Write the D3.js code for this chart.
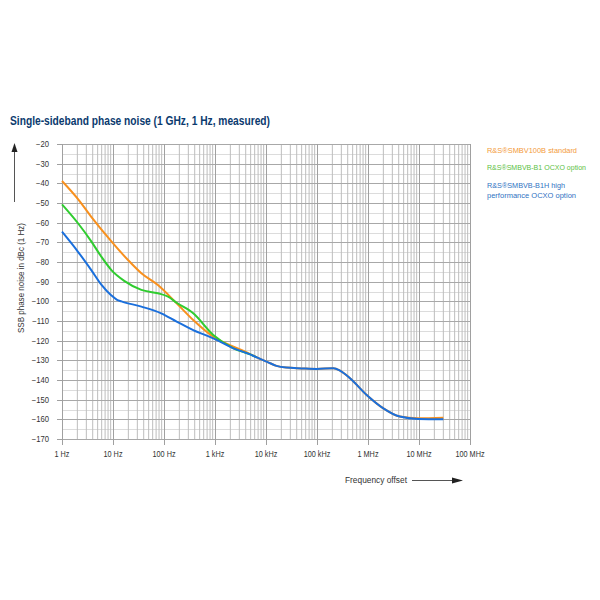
<!DOCTYPE html>
<html><head><meta charset="utf-8">
<script src="https://cdn.jsdelivr.net/npm/d3@7"></script>
<style>body{margin:0;background:#fff}svg{display:block}text{font-family:"Liberation Sans Narrow","Arial Narrow","Liberation Sans",sans-serif}</style>
</head><body>
<svg id="c" width="600" height="600"></svg>
<script>
const title = "Single-sideband phase noise (1 GHz, 1 Hz, measured)";
const yTicks = [-20,-30,-40,-50,-60,-70,-80,-90,-100,-110,-120,-130,-140,-150,-160,-170];
const xTicks = [1,10,100,1e3,1e4,1e5,1e6,1e7,1e8];
const xTickLabels = ["1 Hz","10 Hz","100 Hz","1 kHz","10 kHz","100 kHz","1 MHz","10 MHz","100 MHz"];
const legendLines = ["R&S®SMBV100B standard","R&S®SMBVB-B1 OCXO option","R&S®SMBVB-B1H high","performance OCXO option"];
const colors = ["#f7901e","#2fcc2f","#1a6fdc"];
const legendColors = ["#f39a3a","#5dc13f","#2f72c2"];

const orangeFreq = [1,2.06,3.75,9.3,19.7,36,76,177,374,925,2300,4900,6600,11000,16000,25000,50000,98000,209000,282000,444000,942000,2e6,4.2e6,9.7e6,3e7];
const orangeVal  = [-38.8,-48,-57,-69.5,-79,-85.7,-91.7,-101,-109.5,-118,-123,-126.8,-128.5,-131,-132.8,-133.7,-134.1,-134.4,-134,-135.2,-139.1,-147.6,-154.4,-158.6,-159.5,-159.2];
const greenFreq = [1,2.06,3.75,5.9,9.3,16.9,36,76,120,177,374,925,2300,4900,6600];
const greenVal  = [-50.7,-60.3,-69.5,-77.3,-84.1,-89.7,-94.2,-95.9,-97.6,-100.7,-106.1,-117.1,-123.9,-127,-128.5];
const blueFreq = [1,2.06,3.75,5.9,9.3,12,14.6,36,88,177,374,925,2300,4900,6600,11000,16000,25000,50000,98000,209000,282000,444000,942000,2e6,4.2e6,9.7e6,3e7];
const blueVal  = [-64.6,-74.8,-84.1,-91.5,-97,-99.2,-100,-102.7,-106.1,-110.3,-114.6,-118.8,-123.9,-127,-128.5,-131,-132.8,-133.7,-134.1,-134.4,-134,-135.2,-139.1,-147.6,-154.4,-158.6,-159.8,-160];

const svg = d3.select("#c");
const x = d3.scaleLog().domain([1,1e8]).range([62,470]);
const y = d3.scaleLinear().domain([-170,-20]).range([439,144]);

// grid
const g = svg.append("g");
const minorY = d3.range(-165,-20,10);
g.selectAll(".hm").data(minorY).enter().append("line")
  .attr("x1",x(1)).attr("x2",x(1e8)).attr("y1",d=>Math.round(y(d))+0.5).attr("y2",d=>Math.round(y(d))+0.5)
  .attr("stroke","#dcdcdc").attr("stroke-width",1);
const minorX = [];
for(let d=0; d<8; d++) for(let k=2;k<=9;k++) minorX.push(k*Math.pow(10,d));
g.selectAll(".vm").data(minorX).enter().append("line")
  .attr("x1",d=>x(d)).attr("x2",d=>x(d)).attr("y1",y(-20)).attr("y2",y(-170))
  .attr("stroke","#bdbdbd").attr("stroke-width",1);
g.selectAll(".hM").data(yTicks).enter().append("line")
  .attr("x1",x(1)).attr("x2",x(1e8)).attr("y1",d=>Math.round(y(d))+0.5).attr("y2",d=>Math.round(y(d))+0.5)
  .attr("stroke","#a8a8a8").attr("stroke-width",1);
g.selectAll(".vM").data(xTicks).enter().append("line")
  .attr("x1",d=>Math.round(x(d))+0.5).attr("x2",d=>Math.round(x(d))+0.5).attr("y1",y(-20)).attr("y2",y(-170)+6)
  .attr("stroke","#a0a0a0").attr("stroke-width",1);
g.selectAll(".lt").data(yTicks).enter().append("line")
  .attr("x1",x(1)-5).attr("x2",x(1)).attr("y1",d=>Math.round(y(d))+0.5).attr("y2",d=>Math.round(y(d))+0.5)
  .attr("stroke","#a0a0a0");

// y labels
svg.selectAll(".yl").data(yTicks).enter().append("text")
  .attr("transform",d=>`translate(49,${y(d)+3}) scale(0.9,1)`).attr("text-anchor","end")
  .attr("font-size",8.5).attr("fill","#333").text(d=>"\u2212" + Math.abs(d));
// x labels
svg.selectAll(".xl").data(xTicks).enter().append("text")
  .attr("transform",d=>`translate(${x(d)},457) scale(0.86,1)`).attr("text-anchor","middle")
  .attr("font-size",8.5).attr("fill","#333").text((d,i)=>xTickLabels[i]);

// curves
const line = d3.line().x(d=>x(d[0])).y(d=>y(d[1])).curve(d3.curveMonotoneX);
const data = [d3.zip(orangeFreq,orangeVal), d3.zip(greenFreq,greenVal), d3.zip(blueFreq,blueVal)];
svg.selectAll(".s").data(data).enter().append("path")
  .attr("d",line).attr("fill","none").attr("stroke",(d,i)=>colors[i]).attr("stroke-width",2)
  .attr("stroke-linejoin","round");

// title
svg.append("text").attr("x",10).attr("y",125).attr("font-size",12.5).attr("font-weight","bold")
  .attr("fill","#0b3a6e").attr("textLength",260).attr("lengthAdjust","spacingAndGlyphs").text(title);

// legend
const ly = [153,170,188,198];
const lc = [0,1,2,2];
const lw = [90,99,78,89];
svg.selectAll(".lg").data(legendLines).enter().append("text")
  .attr("x",487).attr("y",(d,i)=>ly[i]).attr("font-size",8).attr("fill",(d,i)=>legendColors[lc[i]])
  .attr("textLength",(d,i)=>lw[i]).attr("lengthAdjust","spacingAndGlyphs").text(d=>d);

// y axis title + arrow
svg.append("text").attr("transform","translate(24,278) rotate(-90)").attr("text-anchor","middle")
  .attr("font-size",8.5).attr("fill","#333").attr("textLength",110).attr("lengthAdjust","spacingAndGlyphs")
  .text("SSB phase noise in dBc (1 Hz)");
svg.append("line").attr("x1",14.5).attr("x2",14.5).attr("y1",202).attr("y2",150).attr("stroke","#555").attr("stroke-width",1);
svg.append("path").attr("d","M14.5,143 L11.5,152 L17.5,152 Z").attr("fill","#222");

// x axis title + arrow
svg.append("text").attr("x",345).attr("y",483).attr("font-size",8.5).attr("fill","#333")
  .attr("textLength",62).attr("lengthAdjust","spacingAndGlyphs").text("Frequency offset");
svg.append("line").attr("x1",412).attr("x2",455).attr("y1",480.5).attr("y2",480.5).attr("stroke","#555");
svg.append("path").attr("d","M463,480.5 L452,477.5 L452,483.5 Z").attr("fill","#222");
</script>
</body></html>
